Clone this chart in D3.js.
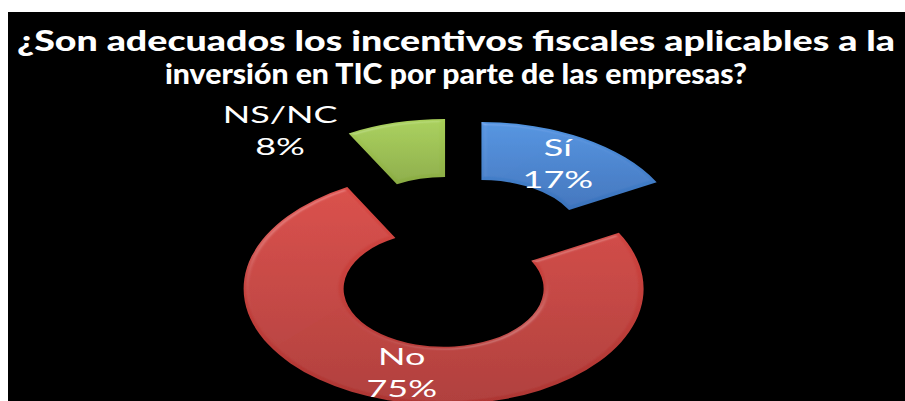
<!DOCTYPE html>
<html>
<head>
<meta charset="utf-8">
<script src="https://cdn.jsdelivr.net/npm/d3@7"></script>
<style>
  html, body { margin: 0; padding: 0; background: #ffffff; }
  svg { display: block; }
</style>
</head>
<body>
<script>
// ---- data ----
const categories = ["Sí", "No", "NS/NC"];
const values = [17, 75, 8];
const valueLabels = ["17%", "75%", "8%"];
const titleLines = ["¿Son adecuados los incentivos fiscales aplicables a la",
                    "inversión en TIC por parte de las empresas?"];

// ---- layout / style ----
const W = 905, H = 401;
const colors = {
  "Sí":    ["#4f92df", "#3b72bb"],
  "No":    ["#d84843", "#ad3633"],
  "NS/NC": ["#a8cf58", "#8aab43"]
};
const cx = 457, cy = 262, R = 200, r = 100, sy = 0.58, explode = 48;

const svg = d3.select("body").append("svg").attr("width", W).attr("height", H);

// background
svg.append("rect").attr("x", 8).attr("y", 12).attr("width", W - 8).attr("height", H - 12).attr("fill", "#000");

const defs = svg.append("defs");
categories.forEach((c, i) => {
  const g = defs.append("linearGradient").attr("id", "grad" + i)
    .attr("x1", 0).attr("y1", 0).attr("x2", 0).attr("y2", 1);
  g.append("stop").attr("offset", "0%").attr("stop-color", colors[c][0]);
  g.append("stop").attr("offset", "100%").attr("stop-color", colors[c][1]);
});
// soft bevel
const f = defs.append("filter").attr("id", "bevel").attr("x", "-10%").attr("y", "-10%").attr("width", "120%").attr("height", "120%");
f.append("feGaussianBlur").attr("in", "SourceAlpha").attr("stdDeviation", 2.5).attr("result", "blur");
const spec = f.append("feSpecularLighting").attr("in", "blur").attr("surfaceScale", 3)
  .attr("specularConstant", 0.25).attr("specularExponent", 20).attr("lighting-color", "#ffffff").attr("result", "spec");
spec.append("fePointLight").attr("x", -3000).attr("y", -8000).attr("z", 6000);
f.append("feComposite").attr("in", "spec").attr("in2", "SourceAlpha").attr("operator", "in").attr("result", "specIn");
f.append("feComposite").attr("in", "SourceGraphic").attr("in2", "specIn").attr("operator", "arithmetic")
  .attr("k1", 0).attr("k2", 1).attr("k3", 0.45).attr("k4", 0);

// title
const title = svg.append("g").attr("font-family", "Lato, 'Open Sans', sans-serif").attr("font-weight", "900")
  .attr("fill", "#fff").attr("text-anchor", "middle");
const titleY = [51, 84];
const titleLen = [878, 582];
titleLines.forEach((t, i) => {
  title.append("text").attr("x", 456).attr("y", titleY[i]).attr("font-size", 28)
    .attr("textLength", titleLen[i]).attr("lengthAdjust", "spacingAndGlyphs").text(t);
});

// pie
const pie = d3.pie().sort(null).value(d => d.v);
const data = pie(categories.map((c, i) => ({ c, v: values[i], l: valueLabels[i], i })));
const arc = d3.arc().innerRadius(r).outerRadius(R);

const ring = svg.append("g").attr("transform", `translate(${cx},${cy}) scale(1,${sy})`);
const off = d => {
  const m = (d.startAngle + d.endAngle) / 2;
  return [explode * Math.sin(m), -explode * Math.cos(m)];
};
ring.selectAll("path").data(data).enter().append("path")
  .attr("transform", d => `translate(${off(d)[0]},${off(d)[1]})`)
  .attr("d", arc)
  .attr("fill", d => `url(#grad${d.data.i})`)
  .attr("filter", "url(#bevel)");

// labels
const labelRadius = [150, 150, null];
const labelShift = { "NS/NC": [-165, -105] };
const textStretch = 1.5;
const labels = svg.append("g").attr("font-family", "Lato, 'Open Sans', sans-serif").attr("fill", "#fff")
  .attr("text-anchor", "middle").attr("font-size", 24);
data.forEach(d => {
  const m = (d.startAngle + d.endAngle) / 2;
  const o = off(d);
  let x, y;
  if (labelShift[d.data.c]) {
    x = cx + o[0] + labelShift[d.data.c][0];
    y = cy + o[1] * sy + labelShift[d.data.c][1];
  } else {
    const lr = labelRadius[d.data.i];
    x = cx + o[0] + lr * Math.sin(m);
    y = cy + (o[1] - lr * Math.cos(m)) * sy;
  }
  const g = labels.append("g").attr("transform", `translate(${x},${y}) scale(${textStretch},1)`);
  g.append("text").attr("x", 0).attr("y", -7).text(d.data.c);
  g.append("text").attr("x", 0).attr("y", 25).text(d.data.l);
});
</script>
</body>
</html>
